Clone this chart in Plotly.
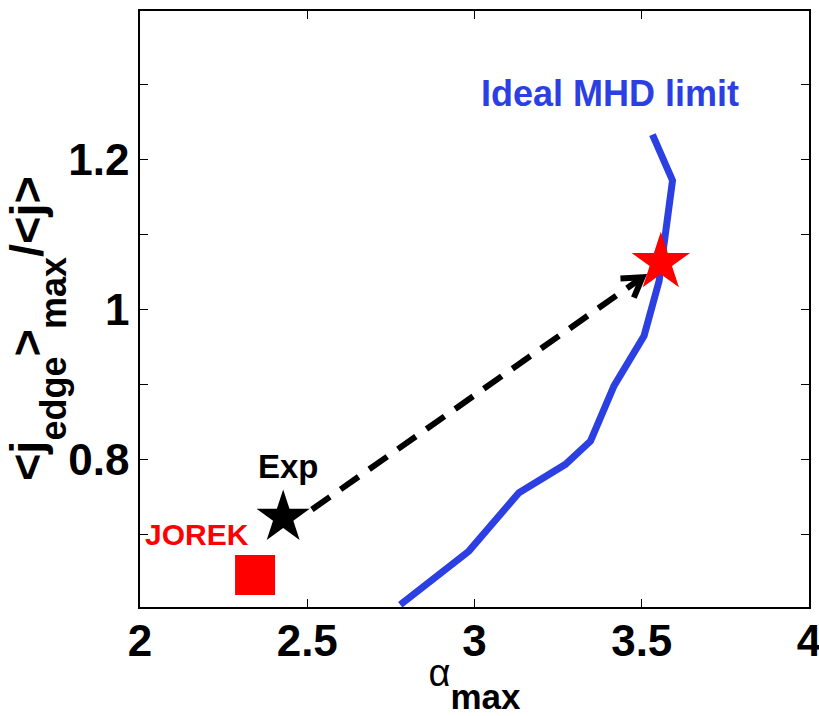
import math
import plotly.graph_objects as go

# ---------------- data ----------------
mhd_alpha = [2.778, 2.983, 3.133, 3.272, 3.347, 3.417, 3.507, 3.552, 3.592, 3.532]
mhd_jratio = [0.606, 0.6775, 0.7555, 0.7933, 0.8245, 0.898, 0.9648, 1.038, 1.172, 1.233]

exp_alpha = [2.428]
exp_jratio = [0.7225]
jorek_alpha = [2.344]
jorek_jratio = [0.6457]
limit_alpha = [3.557]
limit_jratio = [1.0626]

arrow_alpha = [2.514, 3.502]
arrow_jratio = [0.733, 1.0428]

x_tickvals = [2, 2.5, 3, 3.5, 4]
x_ticktext = ["2", "2.5", "3", "3.5", "4"]
y_tickvals = [0.7, 0.8, 0.9, 1.0, 1.1, 1.2, 1.3]
y_ticktext = ["", "0.8", "", "1", "", "1.2", ""]

X_RANGE = [2, 4]
Y_RANGE = [0.603, 1.398]

# ---------------- layout constants ----------------
W, H = 819, 716
ML, MR, MT, MB = 140, 10, 11, 109
PW, PH = W - ML - MR, H - MT - MB
PX_X = PW / (X_RANGE[1] - X_RANGE[0])
PX_Y = PH / (Y_RANGE[1] - Y_RANGE[0])

BLUE = "#2B3FE3"
RED = "#FF0000"
NARROW = "Liberation Sans Narrow, Arial Narrow, Liberation Sans, Arial, sans-serif"
SANS = "Liberation Sans, Arial, Helvetica, sans-serif"

fig = go.Figure()

# ideal MHD limit curve
fig.add_trace(go.Scatter(x=mhd_alpha, y=mhd_jratio, mode="lines",
                         line=dict(color=BLUE, width=7), showlegend=False,
                         hoverinfo="skip"))

# dashed arrow shaft
fig.add_trace(go.Scatter(x=arrow_alpha, y=arrow_jratio, mode="lines",
                         line=dict(color="black", width=6, dash="22px,13px"),
                         showlegend=False, hoverinfo="skip"))

# open arrow head (computed in pixel space from the arrow direction)
dxp = (arrow_alpha[1] - arrow_alpha[0]) * PX_X
dyp = (arrow_jratio[1] - arrow_jratio[0]) * PX_Y
L = math.hypot(dxp, dyp)
ux, uy = dxp / L, dyp / L
head_len, head_ang = 22, math.radians(32)
hx, hy = [], []
for s in (1, -1):
    ca, sa = math.cos(s * head_ang), math.sin(s * head_ang)
    bx, by = -ux * ca + uy * sa, -ux * sa - uy * ca
    hx.append(arrow_alpha[1] + bx * head_len / PX_X)
    hy.append(arrow_jratio[1] + by * head_len / PX_Y)
fig.add_trace(go.Scatter(x=[hx[0], arrow_alpha[1], hx[1]],
                         y=[hy[0], arrow_jratio[1], hy[1]], mode="lines",
                         line=dict(color="black", width=6), showlegend=False,
                         hoverinfo="skip"))

# markers
fig.add_trace(go.Scatter(x=exp_alpha, y=exp_jratio, mode="markers",
                         marker=dict(symbol="star", size=40, color="black",
                                     line=dict(width=0)),
                         showlegend=False, hoverinfo="skip"))
fig.add_trace(go.Scatter(x=jorek_alpha, y=jorek_jratio, mode="markers",
                         marker=dict(symbol="square", size=40, color=RED,
                                     line=dict(width=0)),
                         showlegend=False, hoverinfo="skip"))
fig.add_trace(go.Scatter(x=limit_alpha, y=limit_jratio, mode="markers",
                         marker=dict(symbol="star", size=44, color=RED,
                                     line=dict(width=0)),
                         showlegend=False, hoverinfo="skip"))

# text labels
fig.add_annotation(x=3.404, y=1.2877, text="Ideal MHD limit", showarrow=False,
                   xanchor="center", yanchor="middle",
                   font=dict(family=SANS, size=36, color=BLUE, weight="bold"))
fig.add_annotation(x=exp_alpha[0] + 0.015, y=0.791, text="Exp", showarrow=False,
                   xanchor="center", yanchor="middle",
                   font=dict(family=SANS, size=33, color="black", weight="bold"))
fig.add_annotation(x=2.17, y=0.700, text="JOREK", showarrow=False,
                   xanchor="center", yanchor="middle",
                   font=dict(family=SANS, size=30, color=RED, weight="bold"))

axis_common = dict(showgrid=False, zeroline=False, showline=True,
                   linecolor="black", linewidth=1.5, mirror="ticks",
                   ticks="inside", ticklen=8, tickwidth=1, tickcolor="black",
                   ticklabeloverflow="allow")

SUB = "<sub><sub><sub><span style='font-size:{size}px'>{txt}</span></sub></sub></sub>"

fig.update_layout(
    width=W, height=H,
    margin=dict(l=ML, r=MR, t=MT, b=MB, autoexpand=False),
    paper_bgcolor="white", plot_bgcolor="white",
    xaxis=dict(range=X_RANGE, tickvals=x_tickvals, ticktext=x_ticktext,
               tickfont=dict(family=NARROW, size=44, color="black", weight="bold"),
               ticklabelstandoff=-6,
               title=dict(text="<span style='font-weight:normal;font-size:38px'>α</span>"
                               + SUB.format(size=35, txt="max"),
                          font=dict(family=NARROW, size=50, color="black", weight="bold"),
                          standoff=11),
               **axis_common),
    yaxis=dict(range=Y_RANGE, tickvals=y_tickvals, ticktext=y_ticktext,
               tickfont=dict(family=NARROW, size=44, color="black", weight="bold"),
               ticklabelstandoff=0,
               title=dict(text="<span style='font-size:47px'>&lt;j</span>"
                               + SUB.format(size=36, txt="edge")
                               + "<span style='font-size:47px'>&gt;</span>"
                               + SUB.format(size=36, txt="max")
                               + "<span style='font-size:47px'>/&lt;j&gt;&nbsp;&nbsp;&nbsp;</span>",
                          font=dict(family=NARROW, size=50, color="black", weight="bold"),
                          standoff=32),
               **axis_common),
)

# remove the default 8px page margin so the figure fills the window exactly
fig.write_html("out.html", config={"displayModeBar": False},
               post_script="document.body.style.margin='0px';")
